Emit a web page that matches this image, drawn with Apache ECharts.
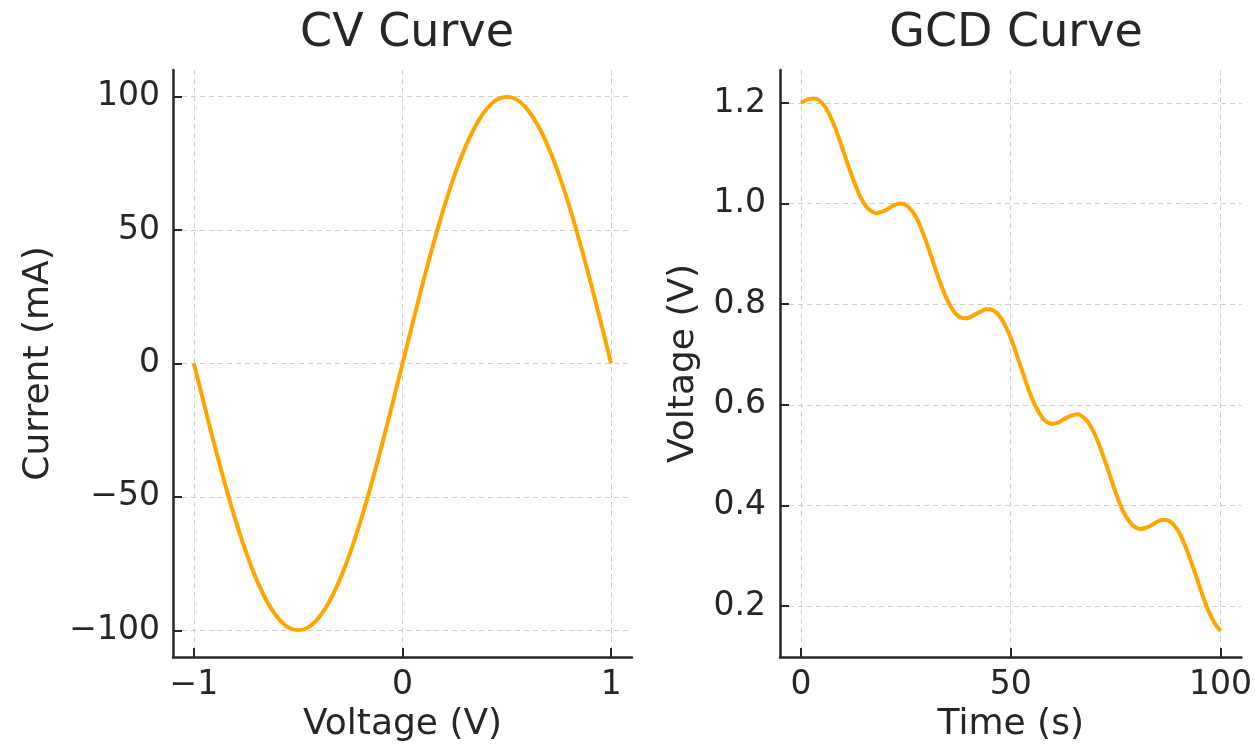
<!DOCTYPE html>
<html>
<head>
<meta charset="utf-8">
<script src="https://cdn.jsdelivr.net/npm/echarts@6/dist/echarts.min.js"></script>
<style>
  html, body { margin: 0; padding: 0; background: #fff; }
  #main { width: 1255px; height: 751px; }
</style>
</head>
<body>
<div id="main"></div>
<script>
// CV curve data (voltage in V, current in mA)
var cvVoltage = [-1.0, -0.95, -0.9, -0.85, -0.8, -0.75, -0.7, -0.65, -0.6, -0.55, -0.5,
  -0.45, -0.4, -0.35, -0.3, -0.25, -0.2, -0.15, -0.1, -0.05, 0.0,
  0.05, 0.1, 0.15, 0.2, 0.25, 0.3, 0.35, 0.4, 0.45, 0.5,
  0.55, 0.6, 0.65, 0.7, 0.75, 0.8, 0.85, 0.9, 0.95, 1.0];
var cvCurrent = [0, -15.6, -30.9, -45.4, -58.8, -70.7, -80.9, -89.1, -95.1, -98.8, -100,
  -98.8, -95.1, -89.1, -80.9, -70.7, -58.8, -45.4, -30.9, -15.6, 0,
  15.6, 30.9, 45.4, 58.8, 70.7, 80.9, 89.1, 95.1, 98.8, 100,
  98.8, 95.1, 89.1, 80.9, 70.7, 58.8, 45.4, 30.9, 15.6, 0];

// GCD curve data (time in s, voltage in V), one reading per second
var gcdTime = [];
for (var s = 0; s <= 100; s++) gcdTime.push(s);
var gcdVoltage = [
  1.200, 1.205, 1.208, 1.209, 1.207, 1.200, 1.189, 1.173, 1.154, 1.131,
  1.107, 1.082, 1.058, 1.036, 1.016, 1.001, 0.990, 0.984, 0.981, 0.983,
  0.986, 0.991, 0.996, 0.999, 1.000, 0.997, 0.990, 0.979, 0.963, 0.943,
  0.921, 0.896, 0.871, 0.847, 0.825, 0.806, 0.791, 0.780, 0.774, 0.772,
  0.773, 0.777, 0.782, 0.786, 0.790, 0.790, 0.787, 0.780, 0.768, 0.752,
  0.733, 0.710, 0.685, 0.661, 0.636, 0.614, 0.596, 0.581, 0.570, 0.564,
  0.562, 0.564, 0.568, 0.573, 0.577, 0.580, 0.581, 0.577, 0.570, 0.558,
  0.542, 0.522, 0.499, 0.475, 0.450, 0.426, 0.404, 0.385, 0.371, 0.361,
  0.355, 0.353, 0.355, 0.358, 0.363, 0.368, 0.371, 0.371, 0.368, 0.360,
  0.348, 0.331, 0.311, 0.288, 0.264, 0.239, 0.215, 0.193, 0.175, 0.161,
  0.151];

// tick labels
var cvVoltageTicks = [-1, 0, 1];
var cvCurrentTicks = [-100, -50, 0, 50, 100];
var gcdTimeTicks = [0, 50, 100];
var gcdVoltageTicks = [0.2, 0.4, 0.6, 0.8, 1.0, 1.2];

var FONT = 'DejaVu Sans';
var TEXT = '#262626';
var LINE = '#FFA500';

function pairs(xs, ys) {
  var out = [];
  for (var i = 0; i < xs.length; i++) out.push([xs[i], ys[i]]);
  return out;
}

// matplotlib prints a real minus sign
function minus(v) {
  return String(v).replace('-', '\u2212');
}

// shared axis style, matplotlib-like
function axisStyle(ticks, fmt, nameGap, margin) {
  return {
    type: 'value',
    nameLocation: 'middle',
    nameGap: nameGap,
    nameTextStyle: { fontFamily: FONT, fontSize: 36, color: TEXT },
    axisLine: { show: true, onZero: false, lineStyle: { color: '#262626', width: 2.5 } },
    axisTick: { show: true, inside: true, length: 9, customValues: ticks, lineStyle: { color: '#262626', width: 2 } },
    axisLabel: { customValues: ticks, margin: margin, fontFamily: FONT, fontSize: 33, color: TEXT, formatter: fmt },
    splitLine: { show: true, lineStyle: { color: '#cfcfcf', width: 1, type: [5, 4] } }
  };
}

var chart = echarts.init(document.getElementById('main'), null, { renderer: 'canvas' });

var xCv = axisStyle(cvVoltageTicks, function (v) { return minus(v); }, 46, 12);
xCv.gridIndex = 0; xCv.min = -1.1; xCv.max = 1.1; xCv.name = 'Voltage (V)';
var yCv = axisStyle(cvCurrentTicks, function (v) { return minus(v); }, 116, 13);
yCv.gridIndex = 0; yCv.min = -110; yCv.max = 110; yCv.name = 'Current (mA)';

var xGcd = axisStyle(gcdTimeTicks, function (v) { return minus(v); }, 46, 12);
xGcd.gridIndex = 1; xGcd.min = -5; xGcd.max = 105; xGcd.name = 'Time (s)';
var yGcd = axisStyle(gcdVoltageTicks, function (v) { return v.toFixed(1); }, 78, 14);
yGcd.gridIndex = 1; yGcd.min = 0.0986; yGcd.max = 1.2656; yGcd.name = 'Voltage (V)';

var option = {
  backgroundColor: '#fff',
  animation: false,
  title: [
    { text: 'CV Curve', left: 402, top: 6, textAlign: 'center',
      textStyle: { fontFamily: FONT, fontSize: 46, fontWeight: 'normal', color: TEXT } },
    { text: 'GCD Curve', left: 1011, top: 6, textAlign: 'center',
      textStyle: { fontFamily: FONT, fontSize: 46, fontWeight: 'normal', color: TEXT } }
  ],
  grid: [
    { left: 173, right: 623, top: 70, bottom: 94 },
    { left: 780, right: 12, top: 70, bottom: 94 }
  ],
  xAxis: [xCv, xGcd],
  yAxis: [yCv, yGcd],
  series: [
    {
      name: 'CV',
      type: 'line',
      xAxisIndex: 0,
      yAxisIndex: 0,
      data: pairs(cvVoltage, cvCurrent),
      smooth: 0.3,
      showSymbol: false,
      lineStyle: { color: LINE, width: 4 }
    },
    {
      name: 'GCD',
      type: 'line',
      xAxisIndex: 1,
      yAxisIndex: 1,
      data: pairs(gcdTime, gcdVoltage),
      smooth: 0.3,
      showSymbol: false,
      lineStyle: { color: LINE, width: 4 }
    }
  ]
};
chart.setOption(option);
</script>
</body>
</html>
